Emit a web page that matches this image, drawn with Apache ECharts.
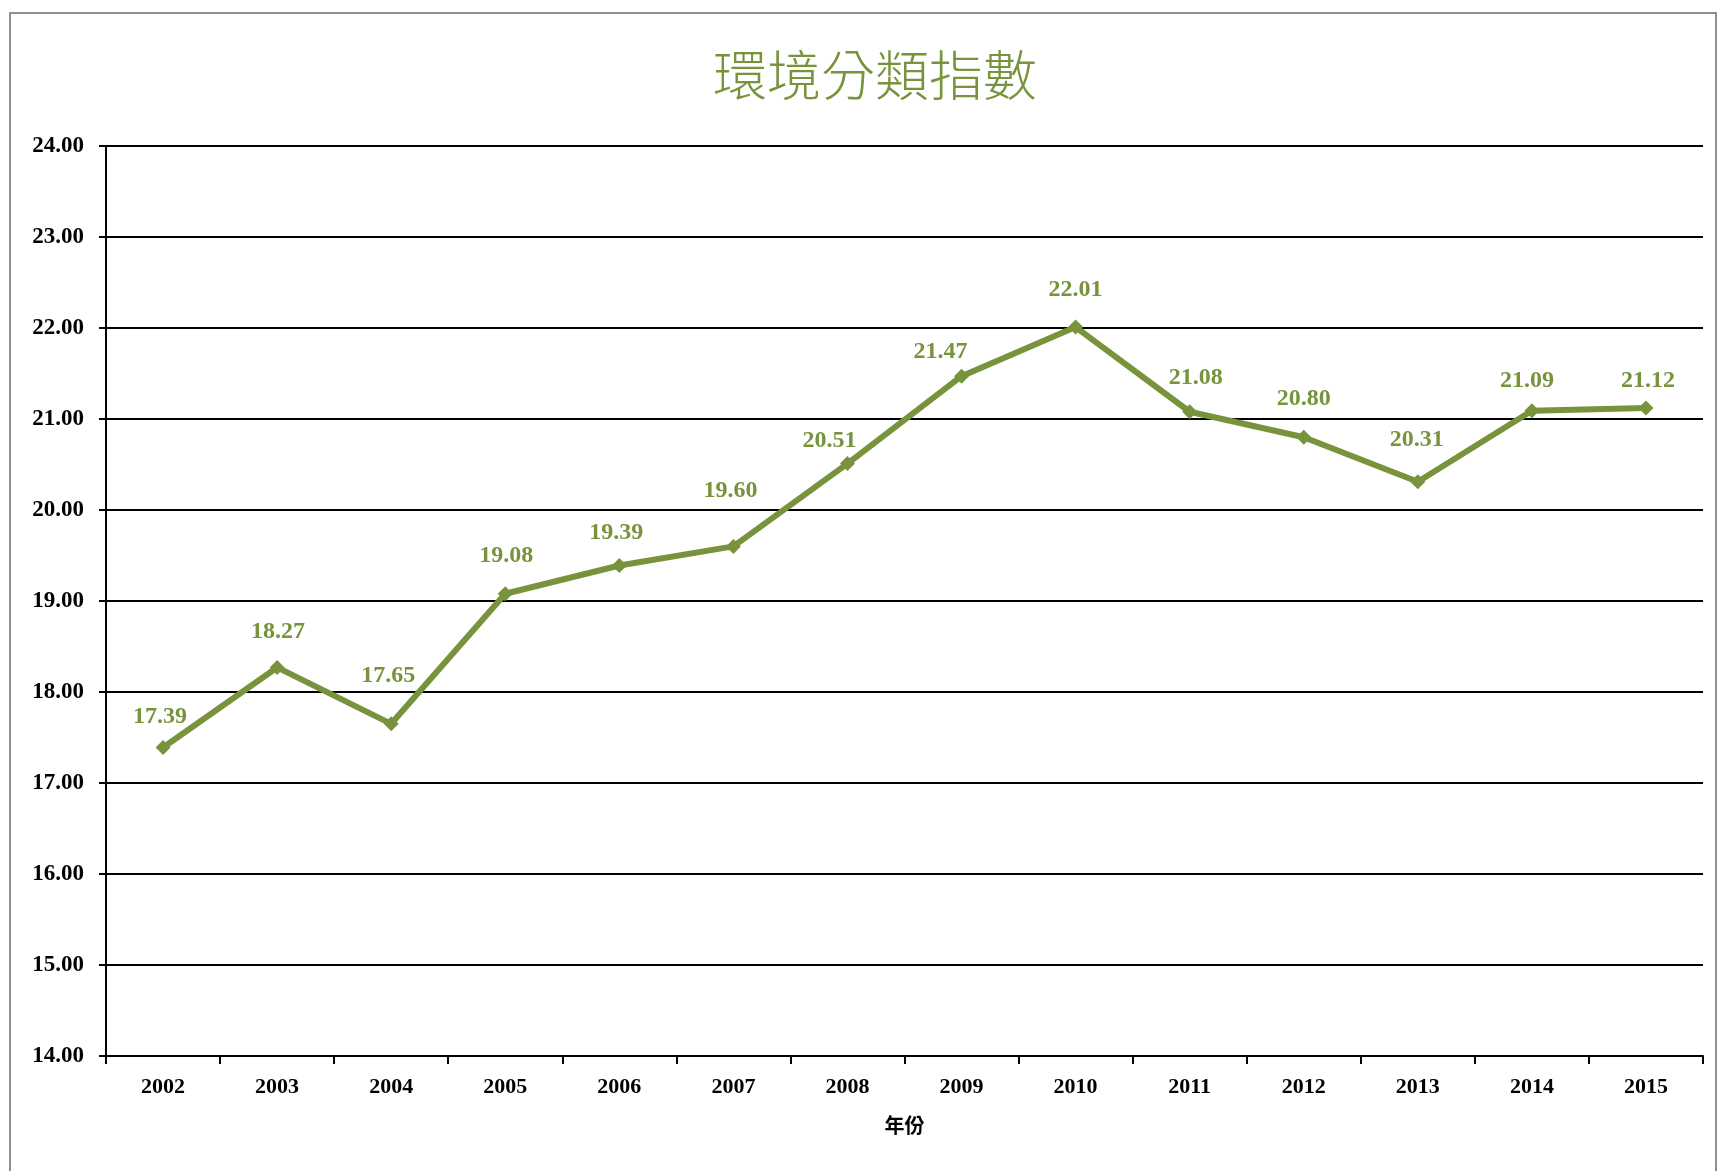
<!DOCTYPE html>
<html>
<head>
<meta charset="utf-8">
<script src="https://cdn.jsdelivr.net/npm/echarts@6/dist/echarts.min.js"></script>
<style>
  html, body { margin: 0; padding: 0; background: #fff; overflow: hidden; }
  #frame {
    position: absolute; left: 9px; top: 12px; width: 1708px; height: 1200px;
    border: 2px solid #8f8f8f; box-sizing: border-box;
  }
  #main { position: absolute; left: 0; top: 0; width: 1721px; height: 1171px; }
</style>
</head>
<body>
<div id="frame"></div>
<div id="main"></div>
<script>
// 年份
var years = ['2002', '2003', '2004', '2005', '2006', '2007', '2008', '2009', '2010', '2011', '2012', '2013', '2014', '2015']
// 環境分類指數
var indexValues = [17.39, 18.27, 17.65, 19.08, 19.39, 19.60, 20.51, 21.47, 22.01, 21.08, 20.80, 20.31, 21.09, 21.12]
// 數據標籤的手動偏移 (跟原圖一樣有些標籤被拖過位置)
var labelShiftX = [-3, 1, -3, 1, -3, -3, -18, -21, 0, 6, 0, -1, -5, 2]
var labelShiftY = [31, 36, 48, 38, 33, 56, 23, 24, 37, 34, 38, 42, 30, 27]

var green = '#77933c'
var serif = '"Liberation Serif", "Times New Roman", serif'

var seriesData = indexValues.map(function(v, i) {
  return { value: v, label: { offset: [labelShiftX[i], -labelShiftY[i]] } }
})

var chart = echarts.init(document.getElementById('main'))
chart.setOption({
  animation: false,
  title: {
    text: '環境分類指數',
    left: 708,
    top: 43,
    textStyle: {
      fontFamily: '"Noto Sans CJK TC", sans-serif',
      fontSize: 54,
      fontWeight: 300,
      color: green
    }
  },
  grid: { left: 106, right: 18, top: 146, bottom: 115 },
  xAxis: {
    type: 'category',
    data: years,
    boundaryGap: true,
    name: '年份',
    nameLocation: 'middle',
    nameGap: 59,
    nameTextStyle: { fontFamily: '"Noto Sans CJK TC", sans-serif', fontSize: 20, fontWeight: 'bold', color: '#000' },
    axisLine: { lineStyle: { color: '#000', width: 2 } },
    axisTick: { show: true, length: 8, lineStyle: { color: '#000', width: 2 } },
    axisLabel: { fontFamily: serif, fontSize: 22, fontWeight: 'bold', color: '#000', margin: 20 },
    splitLine: { show: false }
  },
  yAxis: {
    type: 'value',
    min: 14,
    max: 24,
    interval: 1,
    axisLine: { show: true, lineStyle: { color: '#000', width: 2 } },
    axisTick: { show: true, length: 7, lineStyle: { color: '#000', width: 2 } },
    axisLabel: {
      fontFamily: serif, fontSize: 23, fontWeight: 'bold', color: '#000', margin: 22,
      formatter: function(v) { return v.toFixed(2) }
    },
    splitLine: { show: true, lineStyle: { color: '#000', width: 2 } }
  },
  series: [{
    type: 'line',
    data: seriesData,
    symbol: 'diamond',
    symbolSize: 15,
    lineStyle: { color: green, width: 6 },
    itemStyle: { color: green },
    label: {
      show: true,
      position: 'inside',
      fontFamily: serif,
      fontSize: 24,
      fontWeight: 'bold',
      color: green,
      formatter: function(p) { return p.value.toFixed(2) }
    }
  }]
})
</script>
</body>
</html>
